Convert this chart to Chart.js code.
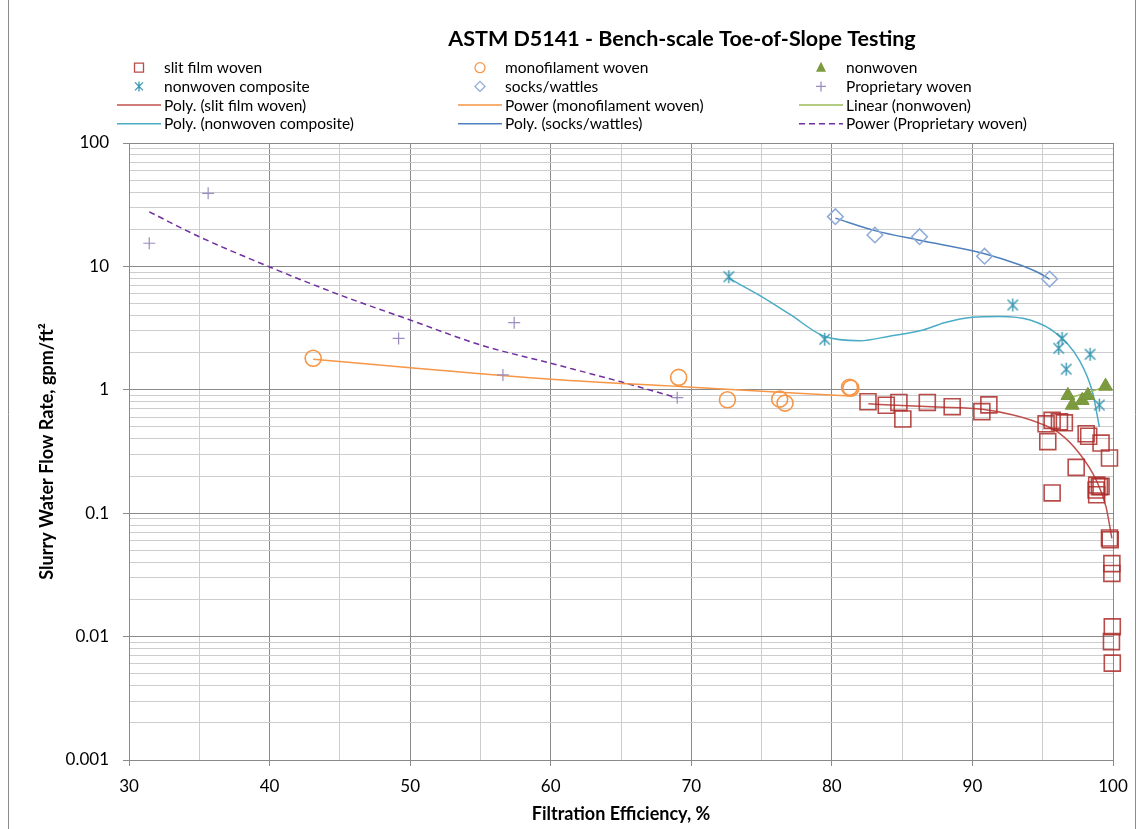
<!DOCTYPE html>
<html>
<head>
<meta charset="utf-8">
<title>ASTM D5141 - Bench-scale Toe-of-Slope Testing</title>
<script src="https://cdn.jsdelivr.net/npm/chart.js@4.4.0/dist/chart.umd.min.js"></script>
<style>
    html, body { margin: 0; padding: 0; background: #fff; }
    #wrap { width: 1138px; height: 829px; position: relative; }
</style>
</head>
<body>
<div id="wrap"><canvas id="chart" width="1138" height="829"></canvas></div>
<script>
// データ

// slit film woven
const slitX = [82.57, 83.87, 84.77, 85.05, 86.79, 88.56, 90.67, 91.17, 95.24, 95.67, 96.19, 96.54, 95.36, 98.09, 98.27, 99.15, 99.75, 97.38, 95.67, 98.84, 99.03, 98.8, 98.84, 99.15, 99.75, 99.8, 99.92, 99.92, 99.95, 99.89, 99.95];
const slitY = [0.80, 0.75, 0.79, 0.58, 0.79, 0.73, 0.665, 0.755, 0.53, 0.565, 0.55, 0.54, 0.38, 0.44, 0.42, 0.37, 0.28, 0.235, 0.146, 0.169, 0.164, 0.154, 0.141, 0.165, 0.063, 0.061, 0.039, 0.0325, 0.012, 0.0091, 0.0061];

// monofilament woven
const monoX = [43.1, 69.1, 72.57, 76.29, 76.67, 81.26, 81.35];
const monoY = [1.80, 1.26, 0.83, 0.84, 0.78, 1.05, 1.03];

// nonwoven
const nonwX = [96.79, 97.1, 97.81, 98.21, 99.47];
const nonwY = [0.90, 0.75, 0.82, 0.90, 1.07];

// nonwoven composite
const compX = [72.67, 79.49, 92.87, 96.38, 96.14, 98.37, 96.67, 99.03];
const compY = [8.25, 2.57, 4.87, 2.61, 2.17, 1.94, 1.47, 0.753];

// socks/wattles
const sockX = [80.25, 83.06, 86.24, 90.86, 95.49];
const sockY = [25.3, 17.97, 17.4, 12.1, 7.9];

// Proprietary woven
const propX = [31.44, 35.63, 49.18, 57.4, 56.6, 69.0];
const propY = [15.4, 39.1, 2.61, 3.50, 1.32, 0.863];

// トレンドライン（図から読み取った点）
const slitTrendX = [82.6, 85, 87.5, 90.7, 92.9, 94.8, 96.2, 97.6, 98.8, 99.5, 99.92];
const slitTrendY = [0.77, 0.745, 0.725, 0.695, 0.625, 0.535, 0.444, 0.306, 0.186, 0.113, 0.0625];

const monoTrendX = [43.1, 50, 60, 70, 81.3];
const monoTrendY = [1.77, 1.51, 1.22, 1.05, 0.89];

const nonwTrendX = [96.8, 99.5];
const nonwTrendY = [0.85, 1.06];

const compTrendX = [72.67, 75, 77, 79.5, 82, 84.1, 86.5, 88, 90, 91.9, 94.1, 95.95, 97.6, 98.56, 99.03];
const compTrendY = [8.0, 5.7, 4.1, 2.7, 2.5, 2.72, 3.05, 3.5, 3.88, 3.93, 3.68, 2.87, 1.74, 0.94, 0.5];

const sockTrendX = [80.25, 83.06, 86.24, 90.74, 93.35, 94.77, 95.49];
const sockTrendY = [24.6, 19.5, 16.3, 12.8, 10.3, 8.8, 7.86];

const propTrendX = [31.44, 35, 40, 45, 50, 55, 60, 65, 69.0];
const propTrendY = [27.7, 17.4, 9.9, 5.87, 3.68, 2.31, 1.64, 1.16, 0.86];

// 軸
const xTickLabels = [30, 40, 50, 60, 70, 80, 90, 100];
const yDecades = [0.001, 0.01, 0.1, 1, 10, 100];
const yTickLabels = ['0.001', '0.01', '0.1', '1', '10', '100'];

const chartTitle = 'ASTM D5141 - Bench-scale Toe-of-Slope Testing';
const xTitle = 'Filtration Efficiency, %';
const yTitle = 'Slurry Water Flow Rate, gpm/ft\u00B2';

const FONT = 'Lato, "Open Sans", sans-serif';
const MAJOR_GRID = '#8a8a8a';
const MINOR_GRID = '#cdcdcd';

function toPoints(xs, ys) {
    return xs.map((x, i) => ({ x: x, y: ys[i] }));
}

function isDecade(v) {
    const l = Math.log10(v);
    return Math.abs(l - Math.round(l)) < 1e-6;
}

// アスタリスク（縦線＋X）マーカー
function makeStar(size, color, lw) {
    const c = document.createElement('canvas');
    c.width = size;
    c.height = size;
    const g = c.getContext('2d');
    const m = size / 2;
    const r = size / 2 - 1;
    g.strokeStyle = color;
    g.lineWidth = lw;
    g.beginPath();
    g.moveTo(m, m - r); g.lineTo(m, m + r);
    const d = r * 0.8;
    g.moveTo(m - d, m - d); g.lineTo(m + d, m + d);
    g.moveTo(m + d, m - d); g.lineTo(m - d, m + d);
    g.stroke();
    return c;
}

const COMP_COLOR = '#3896b0';
const starMarker = makeStar(15, COMP_COLOR, 1.4);

function markerSet(label, xs, ys, style, radius, border, bg, width) {
    return {
        label: label,
        data: toPoints(xs, ys),
        showLine: false,
        pointStyle: style,
        pointRadius: radius,
        pointBorderColor: border,
        pointBackgroundColor: bg,
        pointBorderWidth: width,
        clip: false
    };
}

function trendSet(label, xs, ys, color, dash) {
    return {
        label: label,
        data: toPoints(xs, ys),
        showLine: true,
        pointRadius: 0,
        borderColor: color,
        borderWidth: 1.5,
        borderDash: dash || [],
        cubicInterpolationMode: 'monotone',
        fill: false
    };
}

const datasets = [
    markerSet('slit film woven', slitX, slitY, 'rect', 11.3, 'rgba(170,45,42,0.85)', 'transparent', 1.6),
    markerSet('monofilament woven', monoX, monoY, 'circle', 8, '#f79646', 'transparent', 1.6),
    markerSet('nonwoven', nonwX, nonwY, 'triangle', 8, '#77963a', '#7c9b3e', 1),
    markerSet('nonwoven composite', compX, compY, starMarker, 7, COMP_COLOR, COMP_COLOR, 1),
    markerSet('socks/wattles', sockX, sockY, 'rectRot', 7.8, '#8eaad8', 'transparent', 1.5),
    markerSet('Proprietary woven', propX, propY, 'cross', 6, '#9a8dc0', 'transparent', 1.2),
    trendSet('Poly. (slit film woven)', slitTrendX, slitTrendY, '#c0504d'),
    trendSet('Power (monofilament woven)', monoTrendX, monoTrendY, '#f79646'),
    trendSet('Linear (nonwoven)', nonwTrendX, nonwTrendY, '#9bbb59'),
    trendSet('Poly. (nonwoven composite)', compTrendX, compTrendY, '#4bacc6'),
    trendSet('Poly. (socks/wattles)', sockTrendX, sockTrendY, '#4f81bd'),
    trendSet('Power (Proprietary woven)', propTrendX, propTrendY, '#7030a0', [6, 4])
];

// 凡例用のマーカー描画
function drawLegendMarker(ctx, ds, x, y) {
    const style = ds.pointStyle;
    ctx.save();
    ctx.strokeStyle = ds.pointBorderColor;
    ctx.fillStyle = ds.pointBackgroundColor;
    ctx.lineWidth = 1.3;
    ctx.beginPath();
    if (style === 'rect') {
        ctx.rect(x - 4.5, y - 4.5, 9, 9);
        ctx.stroke();
    } else if (style === 'circle') {
        ctx.arc(x, y, 5, 0, Math.PI * 2);
        ctx.stroke();
    } else if (style === 'triangle') {
        ctx.moveTo(x, y - 6);
        ctx.lineTo(x + 5, y + 4);
        ctx.lineTo(x - 5, y + 4);
        ctx.closePath();
        ctx.fill();
    } else if (style === 'rectRot') {
        ctx.moveTo(x, y - 5);
        ctx.lineTo(x + 5, y);
        ctx.lineTo(x, y + 5);
        ctx.lineTo(x - 5, y);
        ctx.closePath();
        ctx.stroke();
    } else if (style === 'cross') {
        ctx.moveTo(x - 5, y); ctx.lineTo(x + 5, y);
        ctx.moveTo(x, y - 5); ctx.lineTo(x, y + 5);
        ctx.stroke();
    } else {
        ctx.moveTo(x, y - 5); ctx.lineTo(x, y + 5);
        ctx.moveTo(x - 4, y - 4); ctx.lineTo(x + 4, y + 4);
        ctx.moveTo(x + 4, y - 4); ctx.lineTo(x - 4, y + 4);
        ctx.stroke();
    }
    ctx.restore();
}

// 枠・タイトル・凡例のプラグイン
const framePlugin = {
    id: 'frame',
    beforeDraw(chart) {
        const ctx = chart.ctx;
        ctx.save();
        ctx.fillStyle = '#ffffff';
        ctx.fillRect(0, 0, chart.width, chart.height);
        ctx.strokeStyle = '#8c8c8c';
        ctx.lineWidth = 1;
        ctx.beginPath();
        ctx.moveTo(8.5, 0); ctx.lineTo(8.5, chart.height);
        ctx.moveTo(1135.5, 0); ctx.lineTo(1135.5, chart.height);
        ctx.stroke();
        ctx.restore();
    },
    afterDraw(chart) {
        const ctx = chart.ctx;
        ctx.save();
        ctx.fillStyle = '#000';
        ctx.textBaseline = 'middle';
        ctx.textAlign = 'center';
        ctx.font = 'bold 21.5px ' + FONT;
        ctx.fillText(chartTitle, 682, 39);

        ctx.textAlign = 'left';
        ctx.font = '15.5px ' + FONT;
        const cols = [117, 458, 799];
        const rowTop = 67.7;
        const rowStep = 18.7;
        chart.data.datasets.forEach((ds, i) => {
            const x0 = cols[i % 3];
            const y = rowTop + Math.floor(i / 3) * rowStep;
            if (ds.showLine) {
                ctx.save();
                ctx.strokeStyle = ds.borderColor;
                ctx.lineWidth = 1.5;
                ctx.setLineDash(ds.borderDash);
                ctx.beginPath();
                ctx.moveTo(x0, y);
                ctx.lineTo(x0 + 44, y);
                ctx.stroke();
                ctx.restore();
            } else {
                drawLegendMarker(ctx, ds, x0 + 22, y);
            }
            ctx.fillStyle = '#000';
            ctx.fillText(ds.label, x0 + 47, y + 0.5);
        });
        ctx.restore();
    }
};

const ctx = document.getElementById('chart').getContext('2d');
const chart = new Chart(ctx, {
    type: 'scatter',
    data: { datasets: datasets },
    options: {
        responsive: false,
        animation: false,
        devicePixelRatio: 1,
        layout: { padding: { left: 0, right: 25, top: 143, bottom: 0 } },
        plugins: {
            legend: { display: false },
            title: { display: false },
            tooltip: { enabled: false }
        },
        scales: {
            x: {
                type: 'linear',
                min: 30,
                max: 100,
                afterFit: (scale) => { scale.height = 69; },
                ticks: {
                    stepSize: 5,
                    autoSkip: false,
                    maxRotation: 0,
                    padding: 10,
                    color: '#000',
                    font: { family: FONT, size: 17 },
                    callback: (v) => xTickLabels.includes(v) ? String(v) : ''
                },
                grid: {
                    color: (c) => (c.tick && c.tick.value % 10 === 0) ? MAJOR_GRID : MINOR_GRID,
                    lineWidth: 1,
                    tickLength: 6,
                    tickColor: (c) => (c.tick && c.tick.value % 10 === 0) ? MAJOR_GRID : 'rgba(0,0,0,0)'
                },
                border: { color: MAJOR_GRID },
                title: {
                    display: true,
                    text: xTitle,
                    color: '#000',
                    font: { family: FONT, size: 18, weight: 'bold' },
                    padding: { top: 0, bottom: 4 }
                }
            },
            y: {
                type: 'logarithmic',
                min: 0.001,
                max: 100,
                afterFit: (scale) => { scale.width = 129; },
                afterBuildTicks: (scale) => {
                    const ticks = [];
                    yDecades.forEach((d, i) => {
                        if (i === yDecades.length - 1) {
                            ticks.push({ value: d });
                            return;
                        }
                        for (let m = 1; m <= 9; m++) {
                            ticks.push({ value: parseFloat((d * m).toPrecision(6)) });
                        }
                    });
                    scale.ticks = ticks;
                },
                ticks: {
                    autoSkip: false,
                    padding: 14,
                    color: '#000',
                    font: { family: FONT, size: 17 },
                    callback: (v) => {
                        if (!isDecade(v)) return '';
                        const idx = yDecades.findIndex(d => Math.abs(Math.log10(d) - Math.log10(v)) < 1e-6);
                        return idx >= 0 ? yTickLabels[idx] : '';
                    }
                },
                grid: {
                    color: (c) => (c.tick && isDecade(c.tick.value)) ? MAJOR_GRID : MINOR_GRID,
                    lineWidth: 1,
                    tickLength: 6,
                    tickColor: (c) => (c.tick && isDecade(c.tick.value)) ? MAJOR_GRID : 'rgba(0,0,0,0)'
                },
                border: { color: MAJOR_GRID },
                title: {
                    display: true,
                    text: yTitle,
                    color: '#000',
                    font: { family: FONT, size: 18, weight: 'bold' },
                    padding: { top: 36, bottom: 0 }
                }
            }
        }
    },
    plugins: [framePlugin]
});
</script>
</body>
</html>
